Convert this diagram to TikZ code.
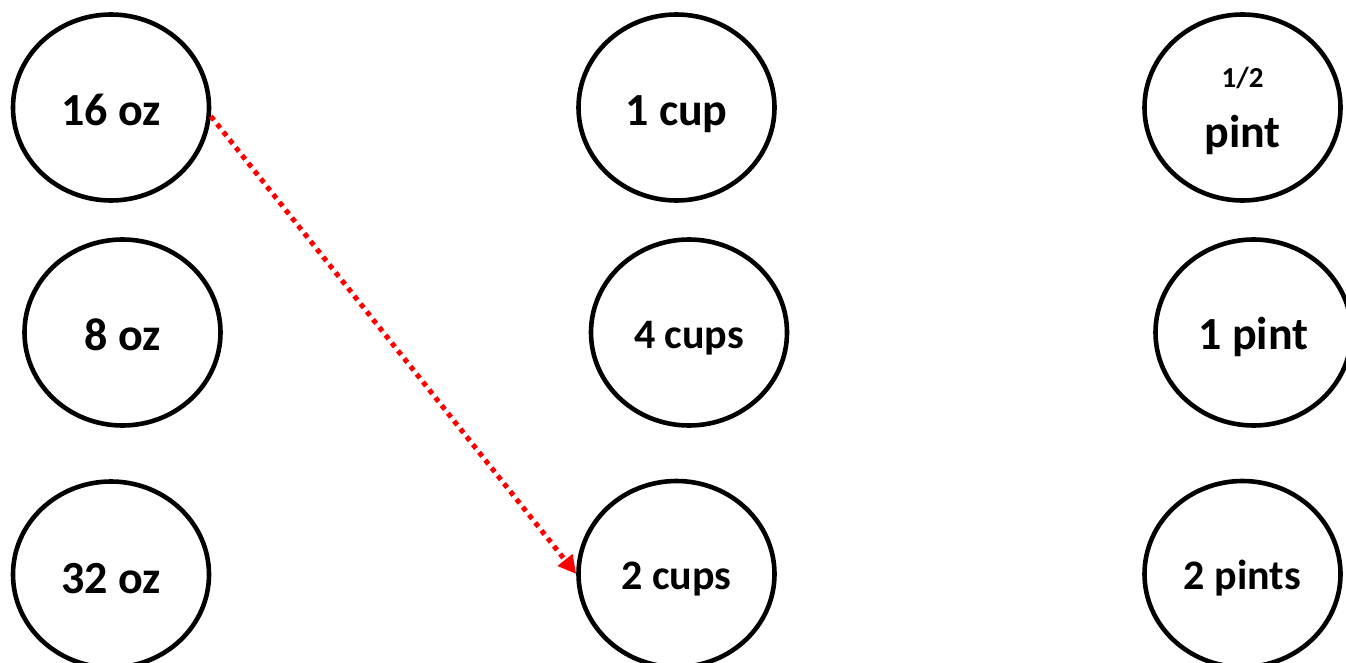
\documentclass[tikz,border=0pt]{standalone}
\usepackage{fontspec}
\setmainfont{Carlito}
\usetikzlibrary{shapes.geometric,arrows.meta}
\begin{document}
\begin{tikzpicture}[x=1pt,y=-1pt,
  unit/.style={ellipse,draw=black,line width=4.6pt,minimum width=196pt,minimum height=186pt,inner sep=0pt},
  big/.style={font=\fontsize{46}{50}\selectfont\bfseries,anchor=base,inner sep=0pt},
  small/.style={font=\fontsize{42}{46}\selectfont\bfseries,anchor=base,inner sep=0pt},
  tiny/.style={font=\fontsize{29}{33}\selectfont\bfseries,anchor=base,inner sep=0pt},
  link/.style={draw=red,line width=5pt,dash pattern=on 5pt off 5pt,-{Triangle[length=18pt,width=18pt]}}]
\useasboundingbox (0,0) rectangle (1346,663);
\clip (0,0) rectangle (1346,663);
% left column
\node[unit] (oz16) at (111,107.5) {};
\node[unit] (oz8) at (122.5,332.5) {};
\node[unit] (oz32) at (111,574.5) {};
% middle column
\node[unit] (cup1) at (676.5,107.5) {};
\node[unit] (cup4) at (689,332.5) {};
\node[unit] (cup2) at (676.5,574) {};
% right column
\node[unit] (pinth) at (1242.5,107.5) {};
\node[unit] (pint1) at (1253.5,332.5) {};
\node[unit] (pint2) at (1242.5,574) {};
% labels
\node[big] (t16) at (oz16.center) [yshift=-18pt] {16 oz};
\node[big] (t8) at (oz8.center) [yshift=-17.5pt] {8 oz};
\node[big] (t32) at (oz32.center) [yshift=-18.5pt] {32 oz};
\node[big] (tc1) at (cup1.center) [yshift=-18pt] {1 cup};
\node[small] (tc4) at (cup4.center) [yshift=-15.5pt] {4 cups};
\node[small] (tc2) at (cup2.center) [yshift=-15pt] {2 cups};
\node[tiny] (thalf) at (pinth.center) [yshift=20pt] {1/2};
\node[big] (tph) at (pinth.center) [yshift=-40.5pt] {pint};
\node[big] (tp1) at (pint1.center) [yshift=-16.5pt] {1 pint};
\node[small] (tp2) at (pint2.center) [yshift=-15pt] {2 pints};
% connector
\draw[link] (oz16.-5) -- (cup2.west);
\end{tikzpicture}
\end{document}
